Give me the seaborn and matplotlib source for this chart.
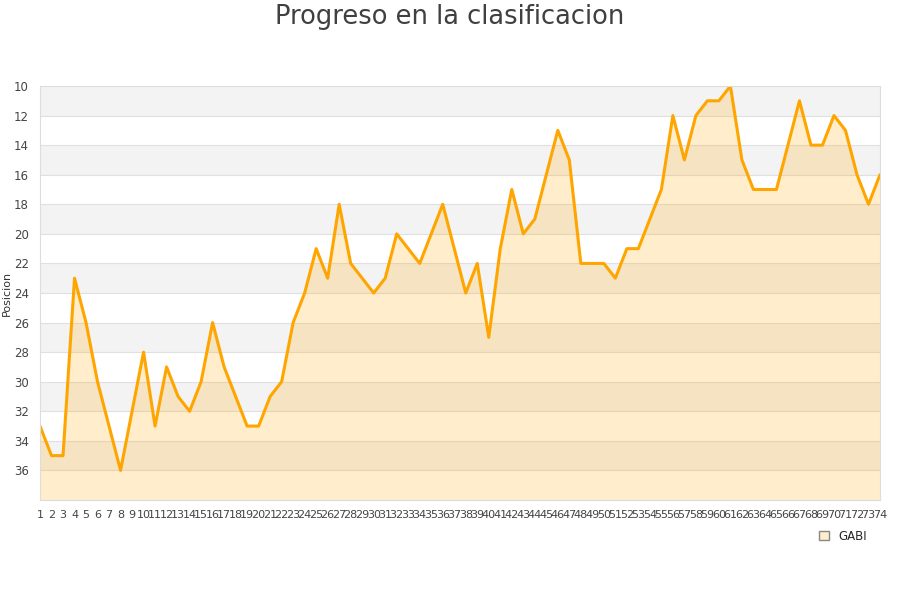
import matplotlib
matplotlib.use('Agg')
import matplotlib.pyplot as plt
import seaborn as sns
import pandas as pd
from matplotlib.patches import Patch

jornadas = list(range(1, 75))
posiciones = [33, 35, 35, 23, 26, 30, 33, 36, 32, 28,
              33, 29, 31, 32, 30, 26, 29, 31, 33, 33,
              31, 30, 26, 24, 21, 23, 18, 22, 23, 24,
              23, 20, 21, 22, 20, 18, 21, 24, 22, 27,
              21, 17, 20, 19, 16, 13, 15, 22, 22, 22,
              23, 21, 21, 19, 17, 12, 15, 12, 11, 11,
              10, 15, 17, 17, 17, 14, 11, 14, 14, 12,
              13, 16, 18, 16]
equipo = 'GABI'

data = pd.DataFrame({'jornada': jornadas, 'posicion': posiciones})

sns.set_style('white')
plt.rcParams['font.family'] = ['DejaVu Sans']

fig = plt.figure(figsize=(9, 6), dpi=100)
ax = fig.add_axes([40 / 900, 1 - 500 / 600, 840 / 900, 414 / 600])

y_min, y_max = 10, 38
# bandas alternas
for k, y0 in enumerate(range(y_min, y_max, 2)):
    if k % 2 == 0:
        ax.axhspan(y0, y0 + 2, color='#f3f3f3', zorder=0, lw=0)
for y0 in range(y_min + 2, y_max, 2):
    ax.axhline(y0, color='#e0e0e0', lw=0.8, zorder=0.5)

ax.fill_between(data['jornada'], data['posicion'], y_max,
                color='#ffa500', alpha=0.2, lw=0, zorder=1)
sns.lineplot(data=data, x='jornada', y='posicion', ax=ax,
             color='#ffa500', lw=2.2, zorder=2)

ax.set_xlim(1, 74)
ax.set_ylim(y_max, y_min)
ax.set_yticks(range(10, 37, 2))
ax.set_xticks(jornadas)
ax.set_xticklabels([str(j) for j in jornadas], fontsize=8, color='#444444')
ax.tick_params(axis='y', labelsize=8.5, colors='#444444', length=0, pad=8)
ax.tick_params(axis='x', length=0, pad=7)
ax.set_xlabel('')
ax.set_ylabel('Posicion', fontsize=8, color='#333333', labelpad=2)
ax.yaxis.set_label_coords(-28 / 840, 0.5)
for s in ax.spines.values():
    s.set_color('#dddddd')

fig.suptitle('Progreso en la clasificacion', fontsize=18.5, color='#404040', y=0.993)

handle = Patch(facecolor='#ffedcc', edgecolor='#888888', lw=1)
fig.legend([handle], [equipo], loc='center', bbox_to_anchor=(843 / 900, 1 - 536 / 600),
           frameon=False, fontsize=8.5, handlelength=0.8, handleheight=0.8,
           handletextpad=0.8)

fig.savefig('out.png', dpi=100)
